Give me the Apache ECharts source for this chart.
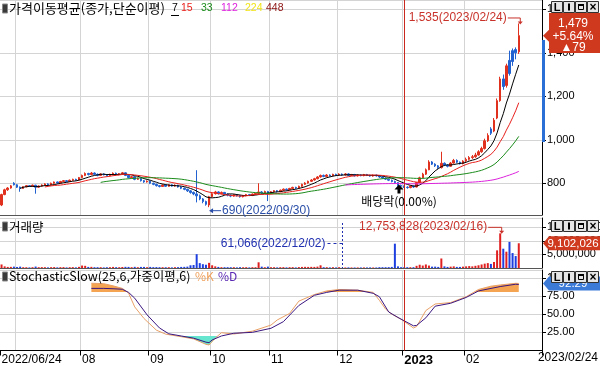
<!DOCTYPE html>
<html>
<head>
<meta charset="utf-8">
<script src="https://cdn.jsdelivr.net/npm/echarts@6.0.0/dist/echarts.min.js"></script>
<style>
html,body{margin:0;padding:0;background:#fff;}
#chart{width:600px;height:366px;}
</style>
</head>
<body>
<div id="chart"></div>
<script>
const dates = [
'2022/06/24','2022/06/27','2022/06/28','2022/06/29','2022/06/30',
'2022/07/01','2022/07/04','2022/07/05','2022/07/06','2022/07/07','2022/07/08','2022/07/11','2022/07/12','2022/07/13','2022/07/14','2022/07/15','2022/07/18','2022/07/19','2022/07/20','2022/07/21','2022/07/22','2022/07/25','2022/07/26','2022/07/27','2022/07/28','2022/07/29',
'2022/08/01','2022/08/02','2022/08/03','2022/08/04','2022/08/05','2022/08/08','2022/08/09','2022/08/10','2022/08/11','2022/08/12','2022/08/16','2022/08/17','2022/08/18','2022/08/19','2022/08/22','2022/08/23','2022/08/24','2022/08/25','2022/08/26','2022/08/29','2022/08/30','2022/08/31',
'2022/09/01','2022/09/02','2022/09/05','2022/09/06','2022/09/07','2022/09/08','2022/09/13','2022/09/14','2022/09/15','2022/09/16','2022/09/19','2022/09/20','2022/09/21','2022/09/22','2022/09/23','2022/09/26','2022/09/27','2022/09/28','2022/09/29','2022/09/30',
'2022/10/04','2022/10/05','2022/10/06','2022/10/07','2022/10/11','2022/10/12','2022/10/13','2022/10/14','2022/10/17','2022/10/18','2022/10/19','2022/10/20','2022/10/21','2022/10/24','2022/10/25','2022/10/26','2022/10/27','2022/10/28','2022/10/31',
'2022/11/01','2022/11/02','2022/11/03','2022/11/04','2022/11/07','2022/11/08','2022/11/09','2022/11/10','2022/11/11','2022/11/14','2022/11/15','2022/11/16','2022/11/17','2022/11/18','2022/11/21','2022/11/22','2022/11/23','2022/11/24','2022/11/25','2022/11/28','2022/11/29','2022/11/30',
'2022/12/01','2022/12/02','2022/12/05','2022/12/06','2022/12/07','2022/12/08','2022/12/09','2022/12/12','2022/12/13','2022/12/14','2022/12/15','2022/12/16','2022/12/19','2022/12/20','2022/12/21','2022/12/22','2022/12/23','2022/12/26','2022/12/27','2022/12/28','2022/12/29',
'2023/01/02','2023/01/03','2023/01/04','2023/01/05','2023/01/06','2023/01/09','2023/01/10','2023/01/11','2023/01/12','2023/01/13','2023/01/16','2023/01/17','2023/01/18','2023/01/19','2023/01/20','2023/01/25','2023/01/26','2023/01/27','2023/01/30','2023/01/31',
'2023/02/01','2023/02/02','2023/02/03','2023/02/06','2023/02/07','2023/02/08','2023/02/09','2023/02/10','2023/02/13','2023/02/14','2023/02/15','2023/02/16','2023/02/17','2023/02/20','2023/02/21','2023/02/22','2023/02/23','2023/02/24'
];
const opens = [
700,748,770,778,800,
793,782,776,784,789,786,791,782,787,792,797,793,800,806,801,808,812,808,814,818,815,
826,836,845,840,847,841,836,843,839,835,841,846,840,844,848,836,826,830,818,822,812,806,
810,800,795,789,785,792,786,793,787,791,783,777,772,765,758,751,742,728,716,700,
738,752,760,752,758,750,745,741,747,743,738,743,748,744,750,753,760,756,762,
755,761,766,762,768,773,770,776,781,778,786,795,801,809,815,821,829,836,831,838,834,841,
837,842,838,843,836,840,834,838,835,840,836,833,837,834,829,824,819,814,808,803,790,
786,782,780,787,783,803,825,842,862,898,888,880,872,892,884,878,893,905,897,890,
902,910,918,922,930,945,960,995,1050,1040,1100,1180,1280,1250,1365,1410,1415,1405
];
const closes = [
748,770,778,788,793,
782,776,784,789,786,791,782,787,792,797,793,800,806,801,808,812,808,814,818,815,826,
836,845,840,847,841,836,843,839,835,841,846,840,844,848,836,826,830,818,822,812,806,810,
800,795,789,785,792,786,793,787,791,783,777,772,765,758,751,742,728,716,703,738,
752,760,752,758,750,745,741,747,743,738,743,748,744,750,753,760,756,762,755,
761,766,762,768,773,770,776,781,778,786,795,801,809,815,821,829,836,831,838,834,841,837,
842,838,843,836,840,834,838,835,840,836,833,837,834,829,824,819,814,808,803,790,786,
782,780,787,783,803,825,842,862,898,888,880,872,892,884,878,893,905,897,890,902,
910,918,922,930,945,960,995,1020,1030,1090,1180,1280,1245,1340,1305,1360,1400,1479
];
const lows = [
695,745,765,775,790,
778,761,774,781,783,784,752,779,784,789,790,791,797,798,799,805,805,806,811,812,813,
823,833,836,837,838,832,833,836,831,832,838,836,837,841,833,822,822,814,815,808,802,803,
796,791,785,781,783,783,784,784,784,780,773,768,760,752,745,712,722,708,697,690,
735,748,748,749,746,740,736,738,739,734,735,740,741,741,747,750,752,753,718,
752,758,758,759,765,766,767,773,774,776,783,792,798,806,812,818,826,828,829,831,832,834,
834,835,835,833,833,831,831,832,832,833,830,830,831,825,820,815,810,804,798,785,782,
778,775,777,779,781,801,822,838,860,884,875,866,868,879,873,876,890,892,886,887,
898,905,912,917,927,940,955,990,1022,1035,1095,1175,1230,1240,1295,1340,1370,1395
];
const highs = [
752,775,782,792,805,
796,785,787,792,791,794,793,790,795,800,800,803,808,808,811,815,815,817,821,821,829,
840,850,848,852,850,845,846,846,842,844,850,849,847,852,850,838,834,832,826,824,815,813,
812,803,798,792,795,795,796,796,795,793,786,780,775,768,762,860,748,732,720,742,
758,765,763,762,760,753,748,750,750,746,746,751,751,753,756,800,764,766,765,
764,769,769,771,776,776,779,784,784,789,798,805,812,819,825,833,840,840,842,841,844,844,
846,845,847,846,843,843,841,841,843,843,839,840,840,837,832,827,822,817,812,805,794,
790,786,790,790,806,830,848,868,906,902,892,884,945,896,888,898,912,910,900,906,
918,925,930,940,952,968,1005,1030,1058,1100,1190,1290,1300,1350,1410,1420,1425,1535
];
const volumes = [
1300000,600000,400000,420000,500000,
380000,500000,300000,280000,220000,300000,520000,300000,320000,300000,220000,300000,340000,230000,310000,330000,220000,300000,330000,240000,420000,
900000,800000,400000,420000,300000,300000,300000,220000,280000,300000,400000,300000,300000,380000,420000,400000,300000,420000,300000,400000,400000,300000,
400000,320000,330000,300000,300000,280000,300000,220000,300000,320000,400000,420000,500000,1000000,1100000,5100000,1800000,1400000,1200000,1900000,
1000000,600000,400000,300000,300000,300000,280000,300000,220000,300000,280000,300000,220000,300000,300000,2100000,500000,300000,500000,
300000,300000,220000,300000,320000,230000,300000,320000,220000,330000,400000,420000,400000,420000,400000,500000,1000000,300000,300000,220000,300000,220000,
300000,61066,200000,220000,200000,200000,200000,200000,220000,200000,220000,200000,200000,300000,300000,300000,320000,400000,8950000,600000,300000,
300000,300000,300000,300000,800000,1200000,900000,1300000,900000,500000,500000,400000,3500000,600000,400000,500000,600000,400000,400000,500000,
600000,700000,600000,800000,1000000,1300000,1600000,1800000,1500000,2200000,6500000,12753828,7100000,6000000,9600000,5500000,4400000,9102026
];
const stochK = [
['2022/08/04',92.6],['2022/08/10',92],['2022/08/16',89],['2022/08/19',85.5],['2022/08/23',79],['2022/08/25',60],['2022/08/30',44],
['2022/09/05',28],['2022/09/08',22.5],['2022/09/19',19],['2022/09/23',16],['2022/09/29',8.5],['2022/09/30',7.6],
['2022/10/05',17],['2022/10/07',24.5],['2022/10/14',22.7],['2022/10/24',26.6],['2022/11/01',35],['2022/11/03',42],['2022/11/09',51],
['2022/11/14',68],['2022/11/21',77],['2022/11/25',82],['2022/12/01',84],['2022/12/09',83],['2022/12/16',80],['2022/12/20',69],
['2022/12/22',57],['2022/12/26',50],['2022/12/29',43],['2023/01/05',31],['2023/01/06',33],['2023/01/11',55],['2023/01/16',64],
['2023/01/25',66],['2023/02/01',74],['2023/02/07',84],['2023/02/13',88.5],['2023/02/16',90.2],['2023/02/23',92.5],['2023/02/24',92.29]
];
const stochD = [
['2022/08/04',85.5],['2022/08/10',85.5],['2022/08/16',85],['2022/08/19',84.3],['2022/08/23',80],['2022/08/25',72],['2022/08/31',49],
['2022/09/06',31],['2022/09/13',23],['2022/09/19',20],['2022/09/23',17],['2022/09/29',11.5],['2022/09/30',10.8],['2022/10/04',14.5],
['2022/10/07',20],['2022/10/14',23.7],['2022/10/24',25],['2022/11/01',30.6],['2022/11/07',39.7],['2022/11/14',62],['2022/11/21',76],
['2022/11/25',80],['2022/12/01',83],['2022/12/09',83],['2022/12/16',78.7],['2022/12/20',74],['2022/12/23',53],['2022/12/28',45.5],
['2023/01/05',34],['2023/01/06',34.5],['2023/01/11',45],['2023/01/16',61],['2023/01/25',65],['2023/02/01',73],['2023/02/07',82],
['2023/02/16',88],['2023/02/23',91.2],['2023/02/24',90.9]
];
const maPeriods = [7, 15, 33, 112];
const maColors = ['#000000', '#e8201c', '#1c8c1c', '#dd22dd'];
const legendPeriods = [7, 15, 33, 112, 224, 448];
const legendColors = ['#000000', '#e8201c', '#1c8c1c', '#dd22dd', '#f0e41a', '#8c1010'];
const exDividendDate = '2022/12/28';
const exDividendText = '배당락(0.00%)';

const UP = '#e0301e', DOWN = '#2262d0';
const VUP = '#e02020', VDOWN = '#1e3fe0';
const FN = '"Liberation Sans", Arial, sans-serif';
const FK = '"Noto Sans CJK KR", "Liberation Sans", sans-serif';

const N = dates.length;
const cats = dates.concat(['_a','_b','_c','_d','_e','_f','_g']);
const monthStarts = new Set();
dates.forEach((d, i) => { if (i > 0 && d.slice(5, 7) !== dates[i - 1].slice(5, 7)) monthStarts.add(i); });
const labelIdx = new Set([0]);
monthStarts.forEach(i => { if (i > 10) labelIdx.add(i); });
const yearIdx = dates.findIndex(d => d.startsWith('2023'));

function movingAverage(n) {
  const out = []; let s = 0;
  for (let i = 0; i < closes.length; i++) {
    s += closes[i]; if (i >= n) s -= closes[i - n];
    out.push(i >= n - 1 ? +(s / n).toFixed(2) : null);
  }
  return out;
}
const fmt = v => Math.round(v).toLocaleString('en-US');

const yearLine = {
  silent: true, symbol: ['none', 'none'], label: { show: false }, animation: false,
  lineStyle: { color: '#c8281e', width: 1, type: 'solid' },
  data: [{ xAxis: yearIdx }]
};

function xAx(gi, show) {
  return {
    type: 'category', gridIndex: gi, data: cats, boundaryGap: true,
    axisLine: { show: true, lineStyle: { color: show ? '#000' : '#555', width: 1 } },
    axisTick: { show: show, interval: i => labelIdx.has(i), length: 5, lineStyle: { color: '#000' } },
    axisLabel: {
      show: show, interval: i => labelIdx.has(i), align: 'left', margin: 3, color: '#000',
      fontSize: 12, fontFamily: FN,
      formatter: (v, i) => i === 0 ? v : (v.slice(5, 7) === '01' ? '{b|' + v.slice(0, 4) + '}' : v.slice(5, 7)),
      rich: { b: { fontWeight: 'bold', fontSize: 13, fontFamily: FN, color: '#000' } }
    },
    splitLine: { show: true, interval: i => monthStarts.has(i), lineStyle: { color: '#d4d4d4', width: 1 } }
  };
}
function yAx(gi, extra) {
  return Object.assign({
    type: 'value', gridIndex: gi, position: 'right', scale: false,
    axisLine: { show: true, lineStyle: { color: '#000', width: 1 } },
    axisTick: { show: true, inside: false, length: 4, lineStyle: { color: '#000' } },
    splitLine: { show: true, lineStyle: { color: '#d4d4d4', width: 1 } },
  }, extra);
}
const lblStyle = f => ({ show: true, color: '#000', fontSize: 11, fontFamily: FN, margin: 5, showMinLabel: false, showMaxLabel: false, formatter: f });

const chart = echarts.init(document.getElementById('chart'), null, { renderer: 'canvas' });

const series = [
  {
    type: 'candlestick', name: 'price', xAxisIndex: 0, yAxisIndex: 0, barWidth: 2,
    data: dates.map((d, i) => [opens[i], closes[i], lows[i], highs[i]]),
    itemStyle: { color: UP, color0: DOWN, borderColor: UP, borderColor0: DOWN, borderWidth: 1 },
    markLine: yearLine
  }
];
maPeriods.forEach((p, k) => series.push({
  type: 'line', name: 'MA' + p, xAxisIndex: 0, yAxisIndex: 0, data: movingAverage(p),
  symbol: 'none', lineStyle: { color: maColors[k], width: 1 }, z: 3
}));
series.push({
  type: 'bar', name: 'volume', xAxisIndex: 1, yAxisIndex: 1, barWidth: 2,
  data: volumes.map((v, i) => ({ value: v, itemStyle: { color: closes[i] >= opens[i] ? VUP : VDOWN } })),
  markLine: yearLine
});
const fillIndex = series.length;
series.push({
  type: 'line', name: 'fill', xAxisIndex: 2, yAxisIndex: 2, data: stochK, symbol: 'none',
  lineStyle: { width: 0, opacity: 0 }, areaStyle: { origin: 80, opacity: 1 }, z: 1
});
series.push({
  type: 'line', name: '%K', xAxisIndex: 2, yAxisIndex: 2, data: stochK, symbol: 'none',
  lineStyle: { color: '#e9a066', width: 1 }, z: 3, markLine: yearLine
});
series.push({
  type: 'line', name: '%D', xAxisIndex: 2, yAxisIndex: 2, data: stochD, symbol: 'none',
  lineStyle: { color: '#3a1680', width: 1 }, z: 3
});

const option = {
  animation: false,
  backgroundColor: '#ffffff',
  grid: [
    { left: 0, right: 58, top: 0, height: 215, outerBoundsMode: 'none' },
    { left: 0, right: 58, top: 218, height: 50, outerBoundsMode: 'none' },
    { left: 0, right: 58, top: 270, height: 80.5, outerBoundsMode: 'none' }
  ],
  xAxis: [xAx(0, false), xAx(1, false), xAx(2, true)],
  yAxis: [
    yAx(0, { min: 654, max: 1643, splitNumber: 5, axisLabel: lblStyle(fmt) }),
    yAx(1, { min: 0, max: 18400000, interval: 5000000, axisLabel: lblStyle(fmt) }),
    yAx(2, { min: 0, max: 110.8, interval: 25, axisLabel: lblStyle(v => v.toFixed(2)) })
  ],
  visualMap: [{
    type: 'piecewise', show: false, seriesIndex: fillIndex, dimension: 1,
    pieces: [{ gt: 80, color: '#f5a552' }, { lt: 20, color: '#66e6cf' }],
    outOfRange: { color: 'rgba(255,255,255,0)' }
  }],
  series: series
};
chart.setOption(option);

function P(gi, i, v) { return chart.convertToPixel({ xAxisIndex: gi, yAxisIndex: gi }, [i, v]); }
const els = [];
function T(x, y, text, fill, o) {
  o = o || {};
  els.push({ type: 'text', x: x, y: y, z: 100, silent: true, style: {
    text: text, fill: fill, fontSize: o.size || 12, fontFamily: o.family || FN, fontWeight: o.weight || 'normal',
    align: o.align || 'left', verticalAlign: 'middle' } });
}
function L(pts, stroke, o) {
  o = o || {};
  els.push({ type: 'polyline', z: 100, silent: true, shape: { points: pts },
    style: { stroke: stroke, fill: null, lineWidth: o.w || 1, lineDash: o.dash || null } });
}
function G(pts, fill, z) {
  els.push({ type: 'polygon', z: z || 100, silent: true, shape: { points: pts }, style: { fill: fill } });
}
function R(x, y, w, h, fill, stroke, z) {
  els.push({ type: 'rect', z: z || 100, silent: true, shape: { x: x, y: y, width: w, height: h },
    style: { fill: fill, stroke: stroke || null, lineWidth: 1 } });
}

// headers
function icon(y) { R(2.5, y, 5, 9, '#3a3a3a', '#8a8a8a'); }
icon(4); T(9, 8.5, '가격이동평균(종가,단순이평)', '#000', { family: FK, size: 13 });
const legendX = [172, 181, 201, 221, 245, 266];
legendPeriods.forEach((p, k) => T(legendX[k], 8.5, String(p), legendColors[k], { size: 10.5 }));
L([[171, 15.5], [179, 15.5]], '#000');
icon(222); T(9, 227, '거래량', '#000', { family: FK, size: 12.5 });
icon(272); T(9, 276.5, 'StochasticSlow(25,6,가중이평,6)', '#000', { family: FK, size: 12.5 });
T(195, 276.5, '%K', '#f0a05a', { family: FK });
T(218, 276.5, '%D', '#5a28b4', { family: FK });

// price high / low annotations
let hi = 0, lo = 0;
highs.forEach((h, i) => { if (h > highs[hi]) hi = i; });
lows.forEach((l, i) => { if (l < lows[lo]) lo = i; });
const ph = P(0, hi, highs[hi]);
const RED_T = '#c8322a', BLUE_T = '#2a4ea8';
T(ph[0] - 12, ph[1] - 6, fmt(highs[hi]) + '(' + dates[hi] + ')', RED_T, { align: 'right' });
L([[ph[0] - 11, ph[1] - 5.5], [ph[0] + 1.5, ph[1] - 5.5], [ph[0] + 1.5, ph[1] - 1]], RED_T);
G([[ph[0] - 1, ph[1] - 2], [ph[0] + 4, ph[1] - 2], [ph[0] + 1.5, ph[1] + 1]], RED_T);
const pl = P(0, lo, lows[lo]);
G([[pl[0], pl[1] + 3.5], [pl[0] + 4, pl[1] + 1], [pl[0] + 4, pl[1] + 6]], BLUE_T);
L([[pl[0] + 3, pl[1] + 3.5], [pl[0] + 12, pl[1] + 3.5]], BLUE_T);
T(pl[0] + 13, pl[1] + 4, fmt(lows[lo]) + '(' + dates[lo] + ')', BLUE_T);

// ex-dividend marker
const ex = dates.indexOf(exDividendDate);
const pe = P(0, ex, lows[ex]);
const ax = pe[0] + 1, ay = pe[1] - 2;
G([[ax, ay], [ax - 4.5, ay + 5], [ax - 1.5, ay + 5], [ax - 1.5, ay + 9], [ax + 1.5, ay + 9], [ax + 1.5, ay + 5], [ax + 4.5, ay + 5]], '#000');
T(ax, ay + 16.5, exDividendText, '#000', { align: 'center', family: FK });

// volume annotations
let vmax = 0, vmin = 0;
volumes.forEach((v, i) => { if (v > volumes[vmax]) vmax = i; if (v < volumes[vmin]) vmin = i; });
const pv = P(1, vmax, volumes[vmax]);
T(pv[0] - 13, pv[1] - 6.5, fmt(volumes[vmax]) + '(' + dates[vmax] + ')', RED_T, { align: 'right' });
L([[pv[0] - 12, pv[1] - 6], [pv[0] + 1.5, pv[1] - 6], [pv[0] + 1.5, pv[1] - 1.5]], RED_T);
G([[pv[0] - 1, pv[1] - 2.5], [pv[0] + 4, pv[1] - 2.5], [pv[0] + 1.5, pv[1] + 0.5]], RED_T);
const pm = P(1, vmin, volumes[vmin]);
const mx = Math.round(pm[0]) + 0.5;
L([[mx, 223], [mx, 268]], '#2030b0', { dash: [2, 2] });
L([[mx - 15, 243.5], [mx, 243.5]], '#2030b0', { dash: [3, 3] });
T(mx - 17, 244, fmt(volumes[vmin]) + '(' + dates[vmin] + ')', '#2030b0', { align: 'right' });

// right-side value callouts
const last = N - 1;
const pc = P(0, last, closes[last])[1];
const chg = closes[last] - closes[last - 1];
const pct = (chg / closes[last - 1] * 100).toFixed(2);
R(542, 40, 3, 102, '#2a6fd6', null, 90);
G([[543, pc], [549, pc - 6], [549, 13], [600, 13], [600, 53], [549, 53], [549, pc + 6]], '#cf3a1f');
T(573, 23.5, fmt(closes[last]), '#fff', { align: 'center', size: 12 });
T(573, 36.5, (chg >= 0 ? '+' : '') + pct + '%', '#fff', { align: 'center', size: 12 });
T(573, 47.5, (chg >= 0 ? '▲' : '▼') + Math.abs(chg), '#fff', { align: 'center', size: 12 });
const pvl = P(1, last, volumes[last])[1];
G([[543, pvl], [549, pvl - 7], [600, pvl - 7], [600, pvl + 7], [549, pvl + 7]], '#cf3a1f');
T(573, pvl + 0.5, fmt(volumes[last]), '#fff', { align: 'center', size: 11.5 });
const kLast = stochK[stochK.length - 1];
const psk = P(2, dates.indexOf(kLast[0]), kLast[1])[1];
G([[543, psk], [549, psk - 7], [600, psk - 7], [600, psk + 7], [549, psk + 7]], '#3c7ad8');
T(573, psk + 0.5, kLast[1].toFixed(2), '#fff', { align: 'center', size: 11.5 });

// panel buttons L I □ X
function buttons(y0) {
  const xs = [551, 563, 575, 587];
  xs.forEach(x => R(x + 0.5, y0 + 0.5, 11, 11, '#e6e6e6', '#303030', 110));
  els.push({ type: 'text', x: xs[0] + 6, y: y0 + 6.5, z: 120, silent: true, style: { text: 'L', fill: '#000', fontSize: 11, fontFamily: FN, fontWeight: 'bold', align: 'center', verticalAlign: 'middle' } });
  R(xs[1] + 5, y0 + 2.5, 2, 7, '#000', null, 120);
  R(xs[2] + 3.5, y0 + 3.5, 5, 5, null, '#000', 120);
  R(xs[2] + 3, y0 + 3, 6, 2, '#000', null, 120);
  els.push({ type: 'text', x: xs[3] + 6, y: y0 + 6.5, z: 120, silent: true, style: { text: '×', fill: '#000', fontSize: 12, fontFamily: FN, fontWeight: 'bold', align: 'center', verticalAlign: 'middle' } });
}
buttons(1); buttons(220); buttons(271);

// end date label
T(598, 358, dates[last], '#000', { align: 'right', size: 12 });

chart.setOption({ graphic: { elements: els } });
</script>
</body>
</html>
